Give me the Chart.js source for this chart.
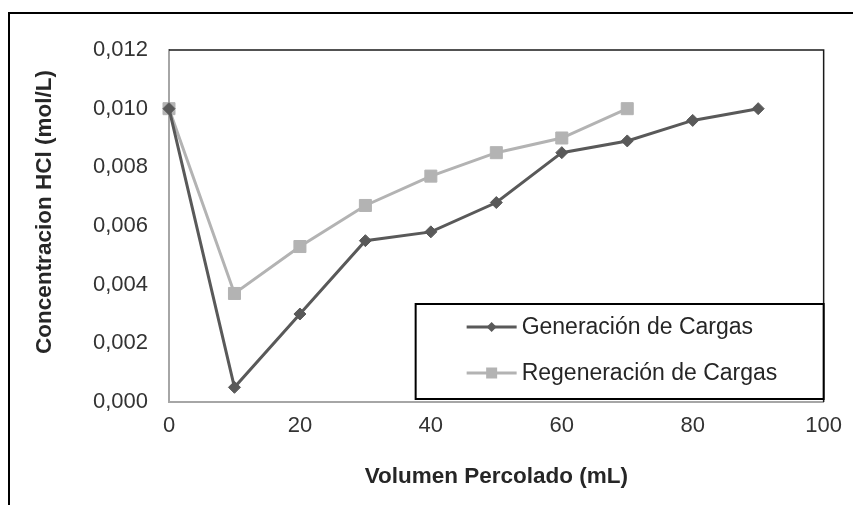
<!DOCTYPE html>
<html><head><meta charset="utf-8">
<script src="https://cdn.jsdelivr.net/npm/chart.js@4.4.1/dist/chart.umd.min.js"></script>
<style>
html,body{margin:0;padding:0;background:#fff;overflow:hidden}
#wrap{position:relative;width:853px;height:505px}
#frame{position:absolute;left:8px;top:12px;width:900px;height:600px;border:2px solid #000;box-sizing:border-box;pointer-events:none}
canvas{position:absolute;left:0;top:0}
</style></head><body>
<div id="wrap"><canvas id="c" width="853" height="505"></canvas><div id="frame"></div></div>
<script>
// Data
const seriesNames = ['Generación de Cargas', 'Regeneración de Cargas'];
const volGeneracion = [0, 10, 20, 30, 40, 50, 60, 70, 80, 90];
const hclGeneracion = [0.0100, 0.0005, 0.0030, 0.0055, 0.0058, 0.0068, 0.0085, 0.0089, 0.0096, 0.0100];
const volRegeneracion = [0, 10, 20, 30, 40, 50, 60, 70];
const hclRegeneracion = [0.0100, 0.0037, 0.0053, 0.0067, 0.0077, 0.0085, 0.0090, 0.0100];
const xTickLabels = ['0', '20', '40', '60', '80', '100'];
const yTickLabels = ['0,000', '0,002', '0,004', '0,006', '0,008', '0,010', '0,012'];
const xTitle = 'Volumen Percolado (mL)';
const yTitle = 'Concentracion HCl (mol/L)';

const FONT = "'Liberation Sans', Arial, sans-serif";
const colors = ['#595959', '#b3b3b3'];
const styles = ['rectRot', 'rect'];

const toPts = (xs, ys) => xs.map((x, i) => ({x: x, y: ys[i]}));

const framePlugin = {
  id: 'frame',
  beforeDatasetsDraw(chart) {
    const {ctx, chartArea: a} = chart;
    ctx.save();
    ctx.strokeStyle = '#1a1a1a';
    ctx.lineWidth = 1.5;
    ctx.beginPath();
    ctx.moveTo(a.left, a.top);
    ctx.lineTo(a.right, a.top);
    ctx.lineTo(a.right, a.bottom);
    ctx.stroke();
    ctx.restore();
  },
  afterDraw(chart) {
    const {ctx, chartArea: a} = chart;
    // y axis title, placed as in the reference
    ctx.save();
    ctx.translate(45, 212);
    ctx.rotate(-Math.PI / 2);
    ctx.font = 'bold 22.5px ' + FONT;
    ctx.fillStyle = '#262626';
    ctx.textAlign = 'center';
    ctx.textBaseline = 'middle';
    ctx.fillText(yTitle, 0, 0);
    ctx.restore();

    // legend box
    const bx = a.right - 408, by = a.bottom - 98, bw = 408, bh = 95;
    ctx.save();
    ctx.fillStyle = '#fff';
    ctx.fillRect(bx, by, bw, bh);
    ctx.strokeStyle = '#000';
    ctx.lineWidth = 2;
    ctx.strokeRect(bx, by, bw, bh);
    const rows = [by + 23, by + 69];
    chart.data.datasets.forEach((ds, i) => {
      const y = rows[i];
      ctx.strokeStyle = ds.borderColor;
      ctx.lineWidth = 3;
      ctx.beginPath();
      ctx.moveTo(bx + 51, y);
      ctx.lineTo(bx + 101, y);
      ctx.stroke();
      ctx.fillStyle = ds.borderColor;
      const cx = bx + 76;
      if (ds.pointStyle === 'rect') {
        ctx.fillRect(cx - 5.5, y - 5.5, 11, 11);
      } else {
        ctx.beginPath();
        ctx.moveTo(cx - 5, y); ctx.lineTo(cx, y - 5); ctx.lineTo(cx + 5, y); ctx.lineTo(cx, y + 5);
        ctx.closePath(); ctx.fill();
      }
      ctx.fillStyle = '#262626';
      ctx.font = '23px ' + FONT;
      ctx.textBaseline = 'middle';
      ctx.textAlign = 'left';
      ctx.fillText(ds.label, bx + 106, y + 1);
    });
    ctx.restore();
  }
};

new Chart(document.getElementById('c'), {
  type: 'line',
  data: {
    datasets: [
      {label: seriesNames[0], data: toPts(volGeneracion, hclGeneracion), borderColor: colors[0], backgroundColor: colors[0],
       pointStyle: styles[0], pointRadius: 6, pointBorderWidth: 1, borderWidth: 3, clip: false, tension: 0},
      {label: seriesNames[1], data: toPts(volRegeneracion, hclRegeneracion), borderColor: colors[1], backgroundColor: colors[1],
       pointStyle: styles[1], pointRadius: 8.5, pointBorderWidth: 1, borderWidth: 3, clip: false, tension: 0}
    ]
  },
  options: {
    responsive: false,
    animation: false,
    layout: {padding: {left: 0, right: 27, top: 50, bottom: 0}},
    plugins: {legend: {display: false}, tooltip: {enabled: false}},
    scales: {
      x: {
        type: 'linear', min: 0, max: 100,
        afterFit(s) { s.height = 103; },
        afterBuildTicks(s) { s.ticks = xTickLabels.map(v => ({value: Number(v)})); },
        grid: {display: false, drawTicks: false},
        border: {display: true, color: '#a6a6a6', width: 2},
        ticks: {padding: 11, font: {size: 22, family: FONT}, color: '#333', maxRotation: 0,
                callback: (v, i) => xTickLabels[i]},
        title: {display: true, text: xTitle, color: '#262626', font: {size: 22.5, weight: 'bold', family: FONT}, padding: {top: 0, bottom: 15}}
      },
      y: {
        type: 'linear', min: 0, max: 0.012,
        afterFit(s) { s.width = 169; },
        afterBuildTicks(s) { s.ticks = yTickLabels.map(v => ({value: Number(v.replace(',', '.'))})); },
        grid: {display: false, drawTicks: false},
        border: {display: true, color: '#a6a6a6', width: 2},
        ticks: {padding: 21, font: {size: 22, family: FONT}, color: '#333',
                callback: (v, i) => yTickLabels[i]},
        title: {display: false, text: yTitle}
      }
    }
  },
  plugins: [framePlugin]
});
</script>
</body></html>
